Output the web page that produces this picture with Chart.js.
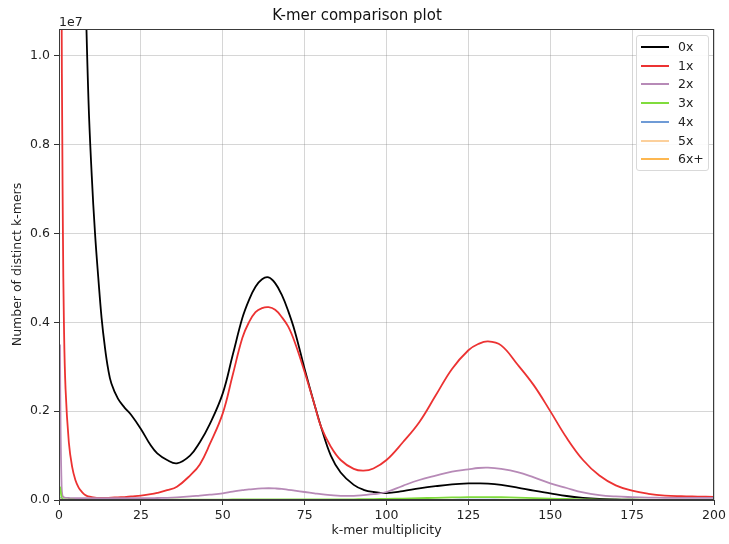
<!DOCTYPE html>
<html>
<head>
<meta charset="utf-8">
<script src="https://cdn.jsdelivr.net/npm/chart.js@4.4.1/dist/chart.umd.min.js"></script>
<style>
  html,body{margin:0;padding:0;background:#fff;}
  #wrap{position:relative;width:729px;height:544px;}
  #legend{position:absolute;left:636px;top:35px;width:73px;height:136px;box-sizing:border-box;
    border:1px solid #d9d9d9;border-radius:3px;background:rgba(255,255,255,0.9);
    font-family:"DejaVu Sans",sans-serif;font-size:12.5px;color:#222;}
  .row{position:absolute;left:4px;height:16px;line-height:16px;}
  .sw{position:absolute;left:0;top:7px;width:28px;height:2px;}
  .lb{position:absolute;left:37px;top:0;white-space:nowrap;}
</style>
</head>
<body>
<div id="wrap">
<canvas id="c" width="729" height="544"></canvas>
<div id="legend"></div>
</div>
<script>
// k-mer multiplicity sample positions
const multiplicity = [0.3,0.5,0.8,1,1.2,1.5,2,3,4,5,6,7,8,9,10,11,12,13,14,15,16,18,20,22,25,28,30,33,36,40,43,46,50,53,56,58,60,62,64,66,68,70,72,75,78,80,83,86,90,93,96,100,105,110,115,120,125,128,131,135,140,145,150,155,160,165,170,175,180,185,190,195,200];

// Number of distinct k-mers (units of 1e7)
const s0x = [14,13,12,11.5,11,10.3,9.2,7,5.2,3.8,2.7,1.9,1.2,0.9,0.73,0.60,0.50,0.41,0.345,0.295,0.262,0.228,0.208,0.192,0.16,0.123,0.105,0.09,0.0825,0.10,0.13,0.17,0.24,0.325,0.41,0.45,0.48,0.497,0.501,0.488,0.462,0.425,0.38,0.295,0.215,0.165,0.10,0.062,0.034,0.023,0.018,0.0155,0.020,0.026,0.031,0.035,0.0372,0.0375,0.037,0.034,0.028,0.021,0.015,0.009,0.005,0.0025,0.0012,0.0006,0.0003,0.0002,0.0001,0.0001,0.0001];
const s1x = [4,2.5,1.1,0.82,0.6,0.4,0.25,0.13,0.075,0.045,0.028,0.018,0.011,0.008,0.0065,0.0055,0.005,0.005,0.005,0.005,0.0052,0.006,0.0065,0.008,0.010,0.013,0.016,0.022,0.030,0.055,0.08,0.125,0.195,0.28,0.365,0.40,0.423,0.432,0.434,0.428,0.412,0.39,0.355,0.288,0.215,0.165,0.12,0.09,0.07,0.066,0.071,0.09,0.13,0.175,0.235,0.295,0.337,0.351,0.357,0.348,0.305,0.258,0.20,0.14,0.09,0.055,0.033,0.021,0.014,0.010,0.0085,0.0078,0.0072];
const s2x = [0.35,0.15,0.03,0.012,0.008,0.006,0.005,0.0045,0.004,0.004,0.004,0.004,0.004,0.004,0.004,0.004,0.004,0.004,0.004,0.004,0.004,0.004,0.004,0.004,0.004,0.004,0.0045,0.005,0.006,0.008,0.010,0.012,0.015,0.019,0.022,0.024,0.025,0.026,0.0265,0.026,0.025,0.023,0.021,0.018,0.015,0.013,0.011,0.0095,0.0095,0.011,0.013,0.018,0.032,0.045,0.055,0.064,0.069,0.072,0.0727,0.070,0.063,0.051,0.0375,0.027,0.017,0.011,0.008,0.0065,0.0055,0.005,0.005,0.005,0.005];
const s3x = [0.03,0.02,0.006,0.003,0.002,0.0015,0.001,0.0008,0.0006,0.0005,0.0005,0.0005,0.0005,0.0005,0.0005,0.0005,0.0005,0.0005,0.0005,0.0005,0.0005,0.0005,0.0005,0.0005,0.0005,0.0005,0.0005,0.0005,0.0006,0.0007,0.0008,0.0009,0.001,0.0011,0.0012,0.0012,0.0013,0.0013,0.0013,0.0013,0.0013,0.0012,0.0012,0.0011,0.0011,0.0011,0.0012,0.0013,0.0015,0.0018,0.002,0.0025,0.0032,0.004,0.005,0.0058,0.0063,0.0065,0.0065,0.0062,0.0052,0.0042,0.003,0.0022,0.0015,0.001,0.0008,0.0006,0.0005,0.0005,0.0005,0.0005,0.0005];
const s4x = [0.006,0.003,0.001,0.0005,0.0003,0.0002,0.0002,0.0001,0.0001,0.0001,0.0001,0.0001,0.0001,0.0001,0.0001,0.0001,0.0001,0.0001,0.0001,0.0001,0.0001,0.0001,0.0001,0.0001,0.0001,0.0001,0.0001,0.0001,0.0001,0.0001,0.0001,0.0001,0.0001,0.0001,0.0001,0.0001,0.0001,0.0001,0.0001,0.0001,0.0001,0.0001,0.0001,0.0001,0.0001,0.0001,0.0001,0.0001,0.0001,0.0001,0.0001,0.0001,0.0002,0.0003,0.0004,0.0005,0.0006,0.0006,0.0006,0.0005,0.0004,0.0003,0.0002,0.0001,0.0001,0.0001,0.0001,0.0001,0.0001,0.0001,0.0001,0.0001,0.0001];
const s5x = [0.003,0.0015,0.0005,0.0003,0.0002,0.0001,0.0001,0,0,0,0,0,0,0,0,0,0,0,0,0,0,0,0,0,0,0,0,0,0,0,0,0,0,0,0,0,0,0,0,0,0,0,0,0,0,0,0,0,0,0,0,0,0,0,0.0001,0.0001,0.0001,0.0001,0.0001,0.0001,0.0001,0,0,0,0,0,0,0,0,0,0,0,0];
const s6x = [0.002,0.001,0.0004,0.0002,0.0001,0.0001,0,0,0,0,0,0,0,0,0,0,0,0,0,0,0,0,0,0,0,0,0,0,0,0,0,0,0,0,0,0,0,0,0,0,0,0,0,0,0,0,0,0,0,0,0,0,0,0,0,0,0,0,0,0,0,0,0,0,0,0,0,0,0,0,0,0,0];

const seriesNames = ['0x','1x','2x','3x','4x','5x','6x+'];
const seriesValues = [s0x,s1x,s2x,s3x,s4x,s5x,s6x];
const seriesColors = ['#000000','#ec3232','#b78ab7','#80dc3c','#6f9bd6','#fcd09c','#fdb750'];

const xTicks = [0,25,50,75,100,125,150,175,200];
const yTicks = [0,0.2,0.4,0.6,0.8,1.0];

const FONT = '"DejaVu Sans", sans-serif';

const datasets = seriesNames.map((name,i)=>({
  label: name,
  data: multiplicity.map((x,j)=>({x:x, y:seriesValues[i][j]})),
  borderColor: seriesColors[i],
  backgroundColor: seriesColors[i],
  borderWidth: 1.8,
  pointRadius: 0,
  fill: false,
  tension: 0.4,
  order: seriesNames.length - i
}));

const framePlugin = {
  id: 'frame',
  afterDatasetsDraw(chart){
    const {ctx, chartArea:a} = chart;
    ctx.save();
    ctx.strokeStyle = '#3a3a3a';
    ctx.lineWidth = 1;
    ctx.strokeRect(Math.round(a.left)+0.5, Math.round(a.top)+0.5, Math.round(a.right-a.left)-1, Math.round(a.bottom-a.top)-1);
    ctx.fillStyle = '#222';
    ctx.font = '12.5px ' + FONT;
    ctx.textAlign = 'left';
    ctx.textBaseline = 'alphabetic';
    ctx.fillText('1e7', a.left, a.top - 3);
    ctx.restore();
  }
};

new Chart(document.getElementById('c'), {
  type: 'line',
  data: { datasets },
  plugins: [framePlugin],
  options: {
    responsive: false,
    animation: false,
    devicePixelRatio: 1,
    layout: { padding: { left: 0, right: 15, top: 0, bottom: 0 } },
    plugins: {
      legend: { display: false },
      tooltip: { enabled: false },
      title: {
        display: true,
        text: 'K-mer comparison plot',
        color: '#111',
        font: { family: FONT, size: 15, weight: 'normal' },
        padding: { top: 7, bottom: 4 }
      }
    },
    scales: {
      x: {
        type: 'linear',
        min: 0, max: 200,
        afterBuildTicks(axis){ axis.ticks = xTicks.map(v=>({value:v})); },
        ticks: { color:'#222', font:{family:FONT,size:12.5}, padding: 3, maxRotation: 0, includeBounds:false,
                 callback: v => String(v) },
        grid: { color:'rgba(120,120,120,0.3)', lineWidth:1, tickLength:5, tickColor:'#333', drawTicks:true },
        border: { display:true, color:'#3a3a3a', width:1 },
        title: { display:true, text:'k-mer multiplicity', color:'#222', font:{family:FONT,size:12.5}, padding:{top:2,bottom:6} },
        afterFit(axis){ axis.height = 44; }
      },
      y: {
        type: 'linear',
        min: 0, max: 1.06,
        afterBuildTicks(axis){ axis.ticks = yTicks.map(v=>({value:v})); },
        ticks: { color:'#222', font:{family:FONT,size:12.5}, padding: 4, includeBounds:false,
                 callback: v => Number(v).toFixed(1) },
        grid: { color:'rgba(120,120,120,0.3)', lineWidth:1, tickLength:5, tickColor:'#333', drawTicks:true },
        border: { display:true, color:'#3a3a3a', width:1 },
        title: { display:true, text:'Number of distinct k-mers', color:'#222', font:{family:FONT,size:12.5}, padding:{top:10,bottom:4} },
        afterFit(axis){ axis.width = 59; }
      }
    }
  }
});

// legend (HTML text) built from the series arrays
const lg = document.getElementById('legend');
seriesNames.forEach((name,i)=>{
  const r = document.createElement('div');
  r.className = 'row';
  r.style.top = (3 + i*18.7) + 'px';
  r.innerHTML = '<div class="sw" style="background:'+seriesColors[i]+'"></div><div class="lb">'+name+'</div>';
  lg.appendChild(r);
});
</script>
</body>
</html>
